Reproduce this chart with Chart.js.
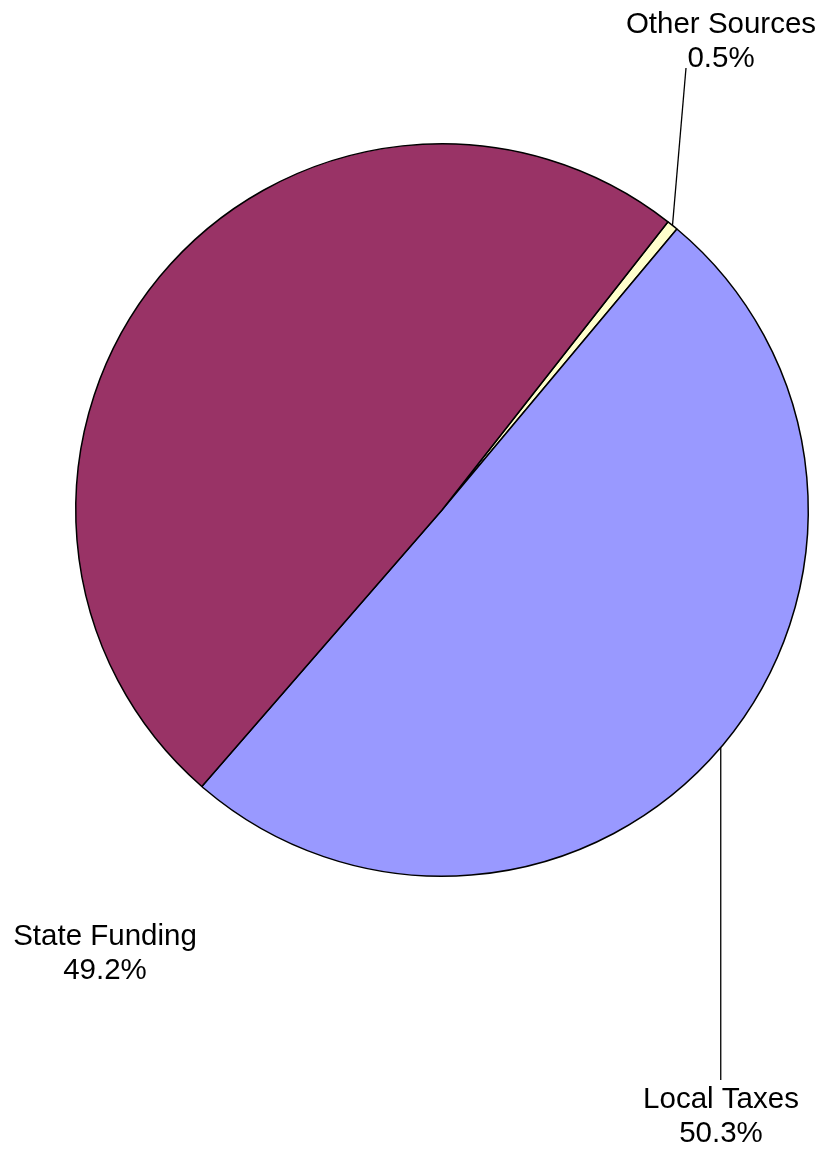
<!DOCTYPE html>
<html>
<head>
<meta charset="utf-8">
<script src="https://cdn.jsdelivr.net/npm/chart.js"></script>
<style>
  html, body { margin: 0; padding: 0; background: #fff; }
  canvas { display: block; }
</style>
</head>
<body>
<canvas id="pieChart" width="825" height="1150"></canvas>
<script>
// Revenue sources, in drawing order (clockwise from the Other Sources slice)
const sourceNames = ["Other Sources", "Local Taxes", "State Funding"];
const sourceShares = [0.5, 50.3, 49.2];
const shareLabels = ["0.5%", "50.3%", "49.2%"];
const sliceColors = ["#FFFFCC", "#9999FF", "#993366"];

// where each label's centre sits on the page, and whether it gets a leader line
const labelLayout = [
  { x: 721, y: 42, leader: true },
  { x: 721, y: 1117, leader: true },
  { x: 105, y: 954, leader: false }
];

const FONT = '29.5px "Liberation Sans", Arial, sans-serif';
const LINE_H = 34;

// draws the category / percent labels and leader lines
const pieLabels = {
  id: "pieLabels",
  afterDatasetsDraw(chart) {
    const ctx = chart.ctx;
    const arcs = chart.getDatasetMeta(0).data;
    ctx.save();
    ctx.font = FONT;
    ctx.fillStyle = "#000";
    ctx.textAlign = "center";
    ctx.textBaseline = "middle";

    arcs.forEach((arc, i) => {
      const pos = labelLayout[i];
      const top = pos.y - LINE_H / 2;
      const bottom = pos.y + LINE_H / 2;

      if (pos.leader) {
        const mid = (arc.startAngle + arc.endAngle) / 2;
        const ex = arc.x + Math.cos(mid) * arc.outerRadius;
        const ey = arc.y + Math.sin(mid) * arc.outerRadius;
        // attach to the label edge that faces the slice
        let lx, ly;
        if (ey > pos.y) {
          lx = pos.x - 35;
          ly = bottom + 9;
        } else {
          lx = ex;
          ly = top - 20;
        }
        ctx.beginPath();
        ctx.strokeStyle = "#000";
        ctx.lineWidth = 1.3;
        ctx.moveTo(ex, ey);
        ctx.lineTo(lx, ly);
        ctx.stroke();
      }

      ctx.fillText(sourceNames[i], pos.x, top);
      ctx.fillText(shareLabels[i], pos.x, bottom);
    });
    ctx.restore();
  }
};

new Chart(document.getElementById("pieChart"), {
  type: "pie",
  data: {
    labels: sourceNames,
    datasets: [{
      data: sourceShares,
      backgroundColor: sliceColors,
      borderColor: "#000",
      borderWidth: 1.5
    }]
  },
  options: {
    responsive: false,
    animation: false,
    rotation: 38.1,
    layout: {
      padding: { left: 75, right: 16, top: 143, bottom: 273 }
    },
    plugins: {
      legend: { display: false },
      tooltip: { enabled: false },
      title: { display: false }
    }
  },
  plugins: [pieLabels]
});
</script>
</body>
</html>
